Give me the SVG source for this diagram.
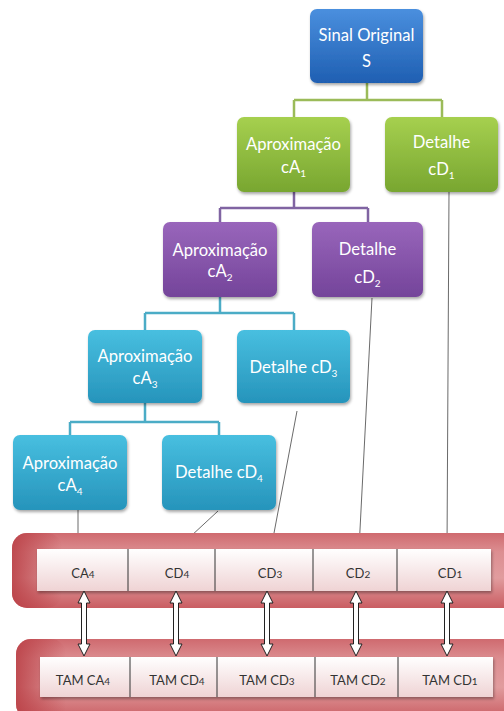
<svg xmlns="http://www.w3.org/2000/svg" width="504" height="711" viewBox="0 0 504 711">
<defs>
<linearGradient id="gBlue" x1="0" y1="0" x2="0" y2="1"><stop offset="0" stop-color="#4a8fde"/><stop offset="1" stop-color="#1f5fb2"/></linearGradient>
<linearGradient id="gGreen" x1="0" y1="0" x2="0" y2="1"><stop offset="0" stop-color="#a6d04f"/><stop offset="1" stop-color="#78a630"/></linearGradient>
<linearGradient id="gPurple" x1="0" y1="0" x2="0" y2="1"><stop offset="0" stop-color="#9966bb"/><stop offset="1" stop-color="#74449a"/></linearGradient>
<linearGradient id="gCyan" x1="0" y1="0" x2="0" y2="1"><stop offset="0" stop-color="#48bfe0"/><stop offset="1" stop-color="#2694bb"/></linearGradient>
<linearGradient id="gBar" x1="0" y1="0" x2="0" y2="1"><stop offset="0" stop-color="#cf6a6f"/><stop offset="0.25" stop-color="#dc8e91"/><stop offset="0.6" stop-color="#e19c9e"/><stop offset="1" stop-color="#c95d62"/></linearGradient>
<linearGradient id="gEdge" x1="0" y1="0" x2="1" y2="0"><stop offset="0" stop-color="#b93e44" stop-opacity="0.85"/><stop offset="1" stop-color="#b93e44" stop-opacity="0"/></linearGradient>
<linearGradient id="gCell" x1="0" y1="0" x2="0" y2="1"><stop offset="0" stop-color="#ffffff"/><stop offset="1" stop-color="#efd3d4"/></linearGradient>
<filter id="sh" x="-10%" y="-10%" width="125%" height="130%"><feDropShadow dx="1" dy="2" stdDeviation="1.5" flood-color="#000" flood-opacity="0.35"/></filter>
</defs>
<style>
.box{filter:url(#sh)}
.t{font-family:Lato,"Open Sans",sans-serif;font-size:16.6px;fill:#ffffff;text-anchor:middle}
.c{font-family:Lato,"Open Sans",sans-serif;font-size:13px;fill:#333333;text-anchor:middle}
.s{font-size:10px}
.tree{fill:none;stroke-width:2.5}
.lead{fill:none;stroke:#444;stroke-width:0.8}
.div{stroke:#333;stroke-width:1}
.arr{fill:#ffffff;stroke:#222;stroke-width:1}
</style>

<g id="connectors">
<path class="tree" stroke="#9bbb59" d="M367,83 V100 M294,100 H442 M294,100 V117 M442,100 V117"/>
<path class="tree" stroke="#8064a2" d="M294,192 V208 M220,208 H368 M220,208 V222 M368,208 V222"/>
<path class="tree" stroke="#4bacc6" d="M220,297 V313 M145,313 H294 M145,313 V330 M294,313 V330"/>
<path class="tree" stroke="#4bacc6" d="M145,403 V422 M70,422 H219 M70,422 V435 M219,422 V435"/>
<path class="lead" d="M78,510 V549"/>
<path class="lead" d="M218,511 L177,549"/>
<path class="lead" d="M297,411 L271,549"/>
<path class="lead" d="M372,298 L359,549"/>
<path class="lead" d="M449,192 L447,549"/>
</g>

<g id="S">
<rect class="box" x="310" y="9" width="113" height="74" rx="7" fill="url(#gBlue)"/>
<text class="t" x="366.5" y="41">Sinal Original</text>
<text class="t" x="366.5" y="67">S</text>
</g>
<g id="cA1">
<rect class="box" x="237" y="117" width="113" height="75" rx="7" fill="url(#gGreen)"/>
<text class="t" x="293.5" y="150">Aproximação</text>
<text class="t" x="293.5" y="173">cA<tspan class="s" dy="4">1</tspan></text>
</g>
<g id="cD1">
<rect class="box" x="385" y="117" width="113" height="75" rx="7" fill="url(#gGreen)"/>
<text class="t" x="441.5" y="148">Detalhe</text>
<text class="t" x="441.5" y="175">cD<tspan class="s" dy="4">1</tspan></text>
</g>
<g id="cA2">
<rect class="box" x="163" y="222" width="114" height="75" rx="7" fill="url(#gPurple)"/>
<text class="t" x="220" y="256">Aproximação</text>
<text class="t" x="220" y="277">cA<tspan class="s" dy="4">2</tspan></text>
</g>
<g id="cD2">
<rect class="box" x="312" y="222" width="111" height="75" rx="7" fill="url(#gPurple)"/>
<text class="t" x="367.5" y="255">Detalhe</text>
<text class="t" x="367.5" y="283">cD<tspan class="s" dy="4">2</tspan></text>
</g>
<g id="cA3">
<rect class="box" x="88" y="330" width="114" height="73" rx="7" fill="url(#gCyan)"/>
<text class="t" x="145" y="362">Aproximação</text>
<text class="t" x="145" y="384">cA<tspan class="s" dy="4">3</tspan></text>
</g>
<g id="cD3">
<rect class="box" x="237" y="330" width="113" height="73" rx="7" fill="url(#gCyan)"/>
<text class="t" x="293.5" y="373">Detalhe cD<tspan class="s" dy="4">3</tspan></text>
</g>
<g id="cA4">
<rect class="box" x="13" y="435" width="114" height="75" rx="7" fill="url(#gCyan)"/>
<text class="t" x="70" y="469">Aproximação</text>
<text class="t" x="70" y="491">cA<tspan class="s" dy="4">4</tspan></text>
</g>
<g id="cD4">
<rect class="box" x="162" y="435" width="114" height="75" rx="7" fill="url(#gCyan)"/>
<text class="t" x="219" y="478">Detalhe cD<tspan class="s" dy="4">4</tspan></text>
</g>

<g id="bar1">
<rect x="12" y="533" width="510" height="75" rx="15" fill="url(#gBar)"/>
<rect x="12" y="533" width="50" height="75" rx="15" fill="url(#gEdge)"/>
<rect x="37" y="549" width="454" height="42" fill="url(#gCell)" filter="url(#sh)"/>
<line class="div" x1="128" y1="549" x2="128" y2="591"/>
<line class="div" x1="215" y1="549" x2="215" y2="591"/>
<line class="div" x1="313" y1="549" x2="313" y2="591"/>
<line class="div" x1="397" y1="549" x2="397" y2="591"/>
<text class="c" x="83" y="578">CA<tspan class="s">4</tspan></text>
<text class="c" x="177" y="578">CD<tspan class="s">4</tspan></text>
<text class="c" x="270" y="578">CD<tspan class="s">3</tspan></text>
<text class="c" x="358" y="578">CD<tspan class="s">2</tspan></text>
<text class="c" x="450" y="578">CD<tspan class="s">1</tspan></text>
</g>

<g id="bar2">
<rect x="16" y="639" width="510" height="80" rx="15" fill="url(#gBar)"/>
<rect x="16" y="639" width="50" height="80" rx="15" fill="url(#gEdge)"/>
<rect x="40" y="657" width="453" height="40" fill="url(#gCell)" filter="url(#sh)"/>
<line class="div" x1="130" y1="657" x2="130" y2="697"/>
<line class="div" x1="217" y1="657" x2="217" y2="697"/>
<line class="div" x1="315" y1="657" x2="315" y2="697"/>
<line class="div" x1="398" y1="657" x2="398" y2="697"/>
<text class="c" x="83" y="685">TAM CA<tspan class="s">4</tspan></text>
<text class="c" x="177" y="685">TAM CD<tspan class="s">4</tspan></text>
<text class="c" x="267" y="685">TAM CD<tspan class="s">3</tspan></text>
<text class="c" x="358" y="685">TAM CD<tspan class="s">2</tspan></text>
<text class="c" x="450" y="685">TAM CD<tspan class="s">1</tspan></text>
</g>

<g id="arrows">
<polygon class="arr" points="84,591 78,603 81.5,603 81.5,644 78,644 84,656 90,644 86.5,644 86.5,603 90,603"/>
<polygon class="arr" points="176,591 170,603 173.5,603 173.5,644 170,644 176,656 182,644 178.5,644 178.5,603 182,603"/>
<polygon class="arr" points="267,591 261,603 264.5,603 264.5,644 261,644 267,656 273,644 269.5,644 269.5,603 273,603"/>
<polygon class="arr" points="356,591 350,603 353.5,603 353.5,644 350,644 356,656 362,644 358.5,644 358.5,603 362,603"/>
<polygon class="arr" points="447,591 441,603 444.5,603 444.5,644 441,644 447,656 453,644 449.5,644 449.5,603 453,603"/>
</g>
</svg>
